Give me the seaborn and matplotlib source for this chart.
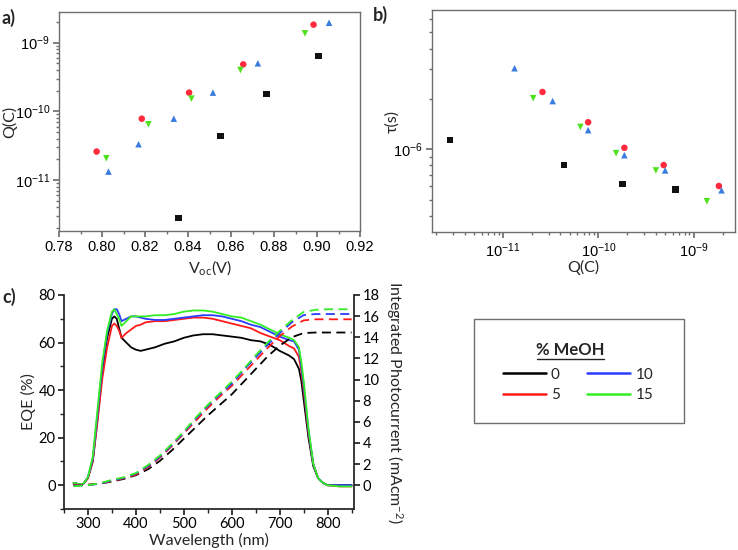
import pandas as pd
import matplotlib
matplotlib.use("Agg")
import matplotlib.pyplot as plt
import seaborn as sns
from matplotlib.patches import Rectangle
from matplotlib.lines import Line2D
from matplotlib.ticker import MultipleLocator, AutoMinorLocator, FormatStrFormatter, NullFormatter

sns.set_theme(style="ticks")
plt.rcParams["font.family"] = ["Lato", "DejaVu Sans"]
plt.rcParams["mathtext.default"] = "regular"

# -------------------------------
# data
# -------------------------------
groups = ["0", "5", "10", "15"]

# a) Q vs Voc, b) tau vs Q
voc_0 = [0.8357, 0.855, 0.8765, 0.9006]
q_0 = [2.77e-12, 4.33e-11, 1.79e-10, 6.4e-10]
tau_0 = [1.135e-6, 8.07e-7, 6.19e-7, 5.75e-7]

voc_5 = [0.7975, 0.8185, 0.8405, 0.8657, 0.8984]
q_5 = [2.59e-11, 7.8e-11, 1.87e-10, 4.83e-10, 1.83e-9]
tau_5 = [2.20e-6, 1.45e-6, 1.02e-6, 8.04e-7, 6.03e-7]

voc_10 = [0.803, 0.817, 0.8334, 0.8516, 0.8725, 0.9056]
q_10 = [1.32e-11, 3.31e-11, 7.8e-11, 1.87e-10, 5.0e-10, 1.95e-9]
tau_10 = [3.05e-6, 1.94e-6, 1.30e-6, 9.21e-7, 7.47e-7, 5.68e-7]

voc_15 = [0.802, 0.8216, 0.8416, 0.8644, 0.8944]
q_15 = [2.07e-11, 6.47e-11, 1.53e-10, 4.0e-10, 1.37e-9]
tau_15 = [2.02e-6, 1.36e-6, 9.47e-7, 7.47e-7, 4.89e-7]

# c) EQE spectra
wl = [270, 280, 290, 300, 310, 320, 330, 340, 350, 355, 360, 365, 370, 380, 390, 400, 410, 420,
      440, 460, 480, 500, 520, 540, 560, 580, 600, 620, 640, 660, 680, 700, 720, 730, 740, 745,
      750, 760, 770, 780, 790, 800, 825, 850]
eqe_0 = [1.0, 0.5, 0.5, 3, 10, 28, 48, 62, 70, 71, 70, 66, 62, 60, 58, 57, 56.5, 57,
         58, 59.5, 60.5, 62, 63, 63.5, 63.5, 63, 62.5, 62, 61, 60.5, 59, 56.5, 54.5, 53, 49, 44,
         36, 20, 8, 3, 1, 0, 0, 0]
eqe_5 = [0.5, 0.5, 0.5, 3, 10, 27, 45, 58, 67, 68, 67, 65, 62, 64, 65.5, 67, 67.5, 68.5,
         69, 69, 69.5, 70, 70.5, 70.5, 70, 69, 68, 67, 66, 64, 62.5, 61, 58.5, 57.5, 54, 48,
         40, 22, 9, 3, 1, 0, -0.5, -0.5]
eqe_10 = [1, 0.5, 0.5, 3.5, 11, 30, 50, 64, 72, 74, 74, 72, 69, 70, 71, 71, 70.5, 70,
          69.5, 69.5, 70, 70.5, 71, 71.5, 71.5, 71, 70, 69, 67.5, 66.5, 64.5, 62.5, 61, 60.5, 57, 50,
          42, 23, 9, 3, 1, 0, 0, 0]
eqe_15 = [1, 0.5, 0.5, 3.5, 12, 32, 52, 65, 73, 74, 72, 70, 67, 69, 71, 71, 71, 71,
          71.5, 71.5, 72, 73, 73.5, 73.5, 73, 72, 71, 70.5, 69, 67.5, 65.5, 63.5, 62, 61, 58, 52,
          44, 24, 9, 3, 1, 0, -0.5, -0.5]

# c) integrated photocurrent
wl_j = [270, 300, 325, 350, 375, 400, 425, 450, 475, 500, 525, 550, 575, 600, 625, 650, 675,
        700, 725, 750, 775, 800, 850]
jsc_0 = [0, 0.05, 0.15, 0.35, 0.6, 0.95, 1.5, 2.3, 3.3, 4.4, 5.5, 6.6, 7.6, 8.6, 9.8, 11.0, 12.2,
         13.2, 14.0, 14.4, 14.45, 14.45, 14.45]
jsc_5 = [0, 0.05, 0.15, 0.4, 0.65, 1.0, 1.7, 2.6, 3.7, 4.9, 6.1, 7.3, 8.4, 9.4, 10.6, 11.8, 13.0,
         14.1, 15.0, 15.6, 15.7, 15.7, 15.7]
jsc_10 = [-0.05, 0, 0.15, 0.45, 0.7, 1.1, 1.8, 2.7, 3.8, 5.0, 6.3, 7.5, 8.6, 9.6, 10.9, 12.1, 13.3,
          14.4, 15.4, 16.1, 16.2, 16.2, 16.2]
jsc_15 = [-0.1, 0, 0.2, 0.5, 0.75, 1.15, 1.9, 2.8, 3.9, 5.1, 6.4, 7.6, 8.7, 9.8, 11.0, 12.3, 13.5,
          14.6, 15.6, 16.4, 16.6, 16.65, 16.65]

# -------------------------------
# tables for seaborn
# -------------------------------
df_pts = pd.concat([
    pd.DataFrame({"Voc": v, "Q": q, "tau": t, "MeOH": g})
    for v, q, t, g in [(voc_0, q_0, tau_0, "0"), (voc_5, q_5, tau_5, "5"),
                       (voc_10, q_10, tau_10, "10"), (voc_15, q_15, tau_15, "15")]
], ignore_index=True)

df_eqe = pd.concat([pd.DataFrame({"wl": wl, "eqe": e, "MeOH": g})
                    for e, g in zip([eqe_0, eqe_5, eqe_10, eqe_15], groups)], ignore_index=True)
df_j = pd.concat([pd.DataFrame({"wl": wl_j, "j": j, "MeOH": g})
                  for j, g in zip([jsc_0, jsc_5, jsc_10, jsc_15], groups)], ignore_index=True)

pt_colors = {"0": "#111111", "5": "#ff2a3c", "10": "#3a7be0", "15": "#4fe01e"}
pt_markers = {"0": "s", "5": "o", "10": "^", "15": "v"}
line_colors = {"0": "#000000", "5": "#ff1a1a", "10": "#2a3cff", "15": "#33ee22"}

fig = plt.figure(figsize=(7.38, 5.5), dpi=100)
W, H = 738, 550
ax_a = fig.add_axes([59 / W, 1 - 231 / H, 301 / W, 219 / H])
ax_b = fig.add_axes([432 / W, 1 - 232 / H, 303 / W, 222 / H])
ax_c = fig.add_axes([64 / W, 1 - 509 / H, 290 / W, 214 / H])


def place_labels(ax, xpos, ypos):
    # centre both axis labels on fixed spots (axes fraction)
    ax.xaxis.set_label_coords(*xpos)
    ax.yaxis.set_label_coords(*ypos)
    for lab in (ax.xaxis.label, ax.yaxis.label):
        lab.set_va("center")
        lab.set_ha("center")


# -------------------------------
# a) Q vs Voc
# -------------------------------
sns.scatterplot(data=df_pts, x="Voc", y="Q", hue="MeOH", style="MeOH", palette=pt_colors,
                markers=pt_markers, s=22, edgecolor="none", legend=False, ax=ax_a)
ax_a.set_yscale("log")
ax_a.set_xlim(0.78, 0.92)
ax_a.set_ylim(1.8e-12, 2.8e-9)
ax_a.xaxis.set_major_locator(MultipleLocator(0.02))
ax_a.xaxis.set_minor_locator(AutoMinorLocator(2))
ax_a.xaxis.set_major_formatter(FormatStrFormatter("%.2f"))
ax_a.set_xlabel("V$_{oc}$(V)", fontsize=11.5)
ax_a.set_ylabel("Q(C)", fontsize=11.5)
place_labels(ax_a, (0.5, -0.165), (-0.165, 0.5))

# -------------------------------
# b) tau vs Q
# -------------------------------
sns.scatterplot(data=df_pts, x="Q", y="tau", hue="MeOH", style="MeOH", palette=pt_colors,
                markers=pt_markers, s=22, edgecolor="none", legend=False, ax=ax_b)
ax_b.set_xscale("log")
ax_b.set_yscale("log")
ax_b.set_xlim(1.8e-12, 2.7e-9)
ax_b.set_ylim(3.2e-7, 6.8e-6)
ax_b.set_xlabel("Q(C)", fontsize=11.5)
ax_b.set_ylabel("τ(s)", fontsize=11.5)
place_labels(ax_b, (0.5, -0.16), (-0.13, 0.5))

for ax in (ax_a, ax_b):
    for sp in ax.spines.values():
        sp.set_color("#6e6e6e")
        sp.set_linewidth(1.0)
    ax.tick_params(which="both", direction="out", colors="#6e6e6e", labelcolor="black",
                   labelsize=10.5, pad=2.5)
    ax.tick_params(which="major", length=4)
    ax.tick_params(which="minor", length=2)
    for lab in ax.get_xticklabels() + ax.get_yticklabels():
        lab.set_family(["Liberation Sans", "DejaVu Sans"])
ax_a.yaxis.set_minor_formatter(NullFormatter())
ax_b.yaxis.set_minor_formatter(NullFormatter())
ax_b.xaxis.set_minor_formatter(NullFormatter())

# -------------------------------
# c) EQE + integrated photocurrent
# -------------------------------
sns.lineplot(data=df_eqe, x="wl", y="eqe", hue="MeOH", palette=line_colors, linewidth=1.3,
             legend=False, ax=ax_c)
ax_c.set_xlim(250, 855)
ax_c.set_ylim(-10, 80)
ax_c.xaxis.set_major_locator(MultipleLocator(100))
ax_c.xaxis.set_minor_locator(AutoMinorLocator(2))
ax_c.yaxis.set_major_locator(MultipleLocator(20))
ax_c.yaxis.set_minor_locator(AutoMinorLocator(2))
ax_c.set_xlabel("Wavelength (nm)", fontsize=11.5)
ax_c.set_ylabel("EQE (%)", fontsize=11.5)
place_labels(ax_c, (0.5, -0.145), (-0.122, 0.5))

ax_j = ax_c.twinx()
sns.lineplot(data=df_j, x="wl", y="j", hue="MeOH", palette=line_colors, linewidth=1.3,
             legend=False, ax=ax_j)
for ln in ax_j.lines:
    ln.set_dashes([5, 3])
ax_j.set_ylim(-2.25, 18)
ax_j.set_yticks(range(0, 19, 2))
ax_j.set_xlabel("")
ax_j.set_ylabel("Integrated Photocurrent (mAcm$^{-2}$)", fontsize=11.5, rotation=270)
ax_j.yaxis.set_label_coords(1.14, 0.5)
ax_j.yaxis.label.set_va("center")
ax_j.yaxis.label.set_ha("center")

ax_c.spines["top"].set_visible(False)
ax_c.spines["right"].set_visible(False)
ax_j.spines["top"].set_visible(False)
ax_j.spines["left"].set_visible(False)
ax_j.spines["bottom"].set_visible(False)
for ax in (ax_c, ax_j):
    for sp in ax.spines.values():
        sp.set_color("#222222")
    ax.tick_params(which="both", direction="out", colors="#222222", labelcolor="black",
                   labelsize=10.5, pad=2)
    ax.tick_params(which="major", length=4)
    ax.tick_params(which="minor", length=3)

# panel letters
fig.text(2 / W, 1 - 18 / H, "a)", fontsize=13, fontweight="bold", va="center")
fig.text(373 / W, 1 - 15 / H, "b)", fontsize=13, fontweight="bold", va="center")
fig.text(2 / W, 1 - 297 / H, "c)", fontsize=13, fontweight="bold", va="center")

# -------------------------------
# legend box
# -------------------------------
fig.add_artist(Rectangle((474 / W, 1 - 423 / H), 210 / W, 104 / H, transform=fig.transFigure,
                         fill=False, edgecolor="#6e6e6e", linewidth=1.0))
fig.text(570 / W, 1 - 350 / H, "% MeOH", fontsize=12, fontweight="bold", ha="center", va="center")
fig.add_artist(Line2D([537 / W, 604 / W], [1 - 359 / H, 1 - 359 / H], transform=fig.transFigure,
                      color="#222222", linewidth=1.0))
handles = [Line2D([], [], color=line_colors[g], linewidth=1.8) for g in groups]
fig.legend(handles, groups, ncol=2, loc="center", bbox_to_anchor=(578 / W, 1 - 385 / H),
           frameon=False, fontsize=11, handlelength=2.8, handletextpad=0.35,
           columnspacing=1.8, labelspacing=0.45)

fig.savefig("out.png", dpi=100)
